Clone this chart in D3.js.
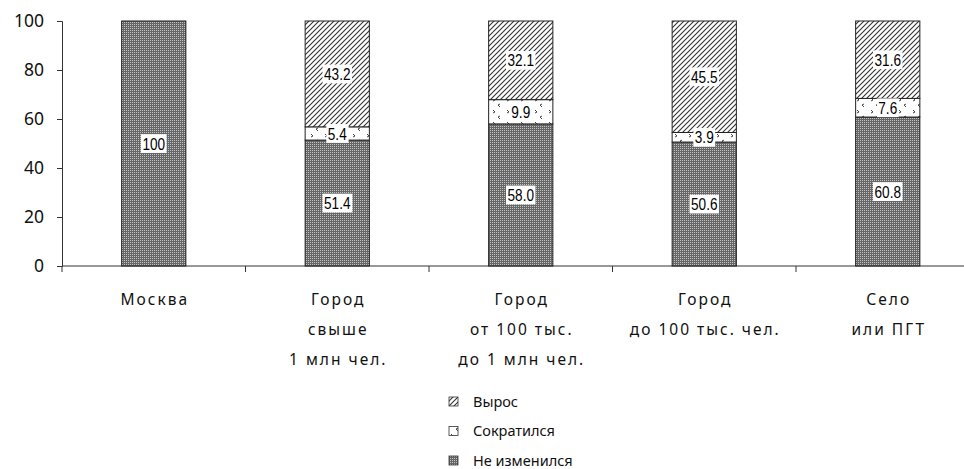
<!DOCTYPE html>
<html><head><meta charset="utf-8">
<script src="https://cdn.jsdelivr.net/npm/d3@7"></script>
<style>
body{margin:0;background:#fff;}
svg{display:block;}
</style></head>
<body><svg id="c" width="964" height="469"></svg>
<script>
const categories = [["Москва"],["Город","свыше","1 млн чел."],["Город","от 100 тыс.","до 1 млн чел."],["Город","до 100 тыс. чел."],["Село","или ПГТ"]];
const seriesNames = ["Не изменился","Сократился","Вырос"];
const unchanged = [100, 51.4, 58.0, 50.6, 60.8];
const decreased = [0, 5.4, 9.9, 3.9, 7.6];
const grew = [0, 43.2, 32.1, 45.5, 31.6];
const labelsUnchanged = ["100","51.4","58.0","50.6","60.8"];
const labelsDecreased = [null,"5.4","9.9","3.9","7.6"];
const labelsGrew = [null,"43.2","32.1","45.5","31.6"];
const yTicks = [0,20,40,60,80,100];

const svg = d3.select("#c");
const defs = svg.append("defs");
const p1 = defs.append("pattern").attr("id","pChk").attr("width",2).attr("height",2).attr("patternUnits","userSpaceOnUse");
p1.append("rect").attr("width",2).attr("height",2).attr("fill","#666");
p1.append("rect").attr("width",1).attr("height",1).attr("fill","#c4c4c4");
const p2 = defs.append("pattern").attr("id","pHatch").attr("width",5).attr("height",5).attr("patternUnits","userSpaceOnUse");
p2.append("rect").attr("width",5).attr("height",5).attr("fill","#fff");
p2.append("path").attr("d","M-1,6 L6,-1 M-1,1 L1,-1 M4,6 L6,4").attr("stroke","#333").attr("stroke-width",1.1);
const p3 = defs.append("pattern").attr("id","pDot").attr("width",14).attr("height",12).attr("patternUnits","userSpaceOnUse");
p3.append("rect").attr("width",14).attr("height",12).attr("fill","#fff");
p3.append("path").attr("d","M3,2 l2,2 l-2,1 M10,8 l-2,1 l2,2").attr("stroke","#444").attr("stroke-width",1).attr("fill","none");

const left = 62, bandW = 183.5;
const x = d3.scaleBand().domain(d3.range(categories.length)).range([left, left + bandW*categories.length]).paddingInner(0.65).paddingOuter(0.325);
const y = d3.scaleLinear().domain([0,100]).range([266,21]);

const tableData = categories.map((c,i)=>({i, u:unchanged[i], d:decreased[i], g:grew[i]}));
const stack = d3.stack().keys(["u","d","g"])(tableData);
const fills = {u:"url(#pChk)", d:"url(#pDot)", g:"url(#pHatch)"};
const labs = {u:labelsUnchanged, d:labelsDecreased, g:labelsGrew};

const yAxis = svg.append("g").attr("transform",`translate(${left},0)`).call(d3.axisLeft(y).tickValues(yTicks).tickSize(5).tickPadding(13));
yAxis.select(".domain").attr("stroke","#333");
yAxis.selectAll(".tick line").attr("stroke","#333");
yAxis.selectAll("text").attr("font-family","'Noto Sans', 'Open Sans', sans-serif").attr("font-size",17.5).attr("fill","#111");

svg.append("line").attr("x1",left).attr("x2",964).attr("y1",y(0)).attr("y2",y(0)).attr("stroke","#333");
d3.range(categories.length+1).forEach(k=>{
  svg.append("line").attr("x1",left+k*bandW).attr("x2",left+k*bandW).attr("y1",y(0)).attr("y2",y(0)+6).attr("stroke","#333");
});

stack.forEach(layer=>{
  const key = layer.key;
  svg.append("g").selectAll("rect").data(layer.filter(d=>d[1]-d[0]>0)).join("rect")
    .attr("x",d=>x(d.data.i)).attr("width",x.bandwidth())
    .attr("y",d=>y(d[1])).attr("height",d=>y(d[0])-y(d[1]))
    .attr("fill",fills[key]).attr("stroke","#222").attr("stroke-width",1);
});
const sx = 0.8;
stack.forEach(layer=>{
  const key = layer.key;
  layer.forEach(d=>{
    const t = labs[key][d.data.i];
    if(!t) return;
    const cx = x(d.data.i)+x.bandwidth()/2, cy = (y(d[0])+y(d[1]))/2;
    const g = svg.append("g").attr("transform",`translate(${cx},${cy})`);
    const txt = g.append("text").attr("x",0).attr("y",0).attr("dy","0.36em").attr("text-anchor","middle")
      .attr("transform",`scale(${sx},1)`)
      .attr("font-family","'Liberation Sans',Arial,sans-serif").attr("font-size",17).attr("fill","#000").text(t);
    const bb = txt.node().getBBox();
    g.insert("rect","text").attr("x",bb.x*sx-1.5).attr("y",bb.y).attr("width",bb.width*sx+3).attr("height",bb.height).attr("fill","#fff");
  });
});

categories.forEach((lines,i)=>{
  const cx = x(i)+x.bandwidth()/2;
  const t = svg.append("text").attr("text-anchor","middle").attr("font-family","'Noto Sans','Open Sans',sans-serif").attr("font-size",15.5).attr("letter-spacing","2px").attr("fill","#111");
  lines.forEach((l,j)=>t.append("tspan").attr("x",cx+1).attr("y",305+j*30).text(l));
});

const legendOrder = [["Вырос","url(#pHatch)"],["Сократился","url(#pDot)"],["Не изменился","url(#pChk)"]];
legendOrder.forEach((d,j)=>{
  const ly = 402 + j*29.5;
  svg.append("rect").attr("x",449).attr("y",ly-5).attr("width",9).attr("height",9).attr("fill",d[1]).attr("stroke","#333").attr("stroke-width",0.8);
  svg.append("text").attr("x",473).attr("y",ly).attr("dy","0.33em").attr("font-family","'Noto Sans','Open Sans',sans-serif").attr("font-size",14.5).attr("fill","#111").text(d[0]);
});
</script></body></html>
